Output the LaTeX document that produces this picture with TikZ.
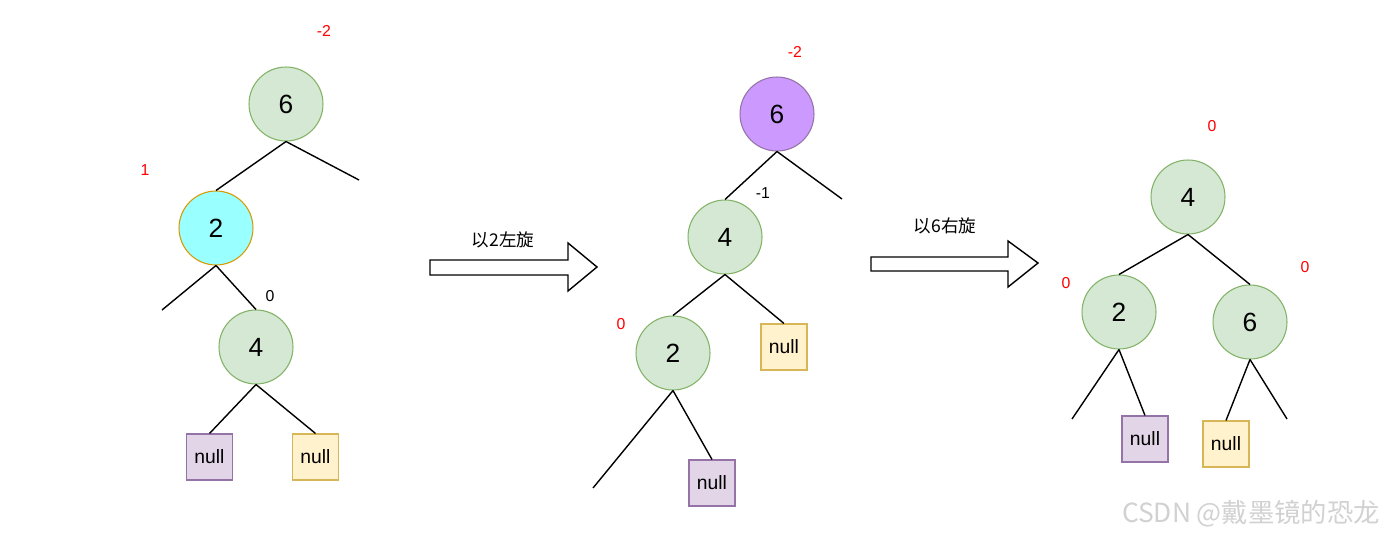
\documentclass[tikz,border=0pt]{standalone}
\usepackage{fontspec}
\setmainfont{Liberation Sans}
\newfontfamily\cjk{Noto Sans CJK SC}

\definecolor{greenfill}{HTML}{D5E8D4}
\definecolor{greenline}{HTML}{82B366}
\definecolor{cyanfill}{HTML}{99FFFF}
\definecolor{goldline}{HTML}{D79B00}
\definecolor{violetfill}{HTML}{CC99FF}
\definecolor{purpleline}{HTML}{9673A6}
\definecolor{purplefill}{HTML}{E1D5E7}
\definecolor{yellowfill}{HTML}{FFF2CC}
\definecolor{yellowline}{HTML}{D6B656}

\tikzset{
  avl/.style={circle, draw=greenline, fill=greenfill, line width=0.6pt,
    minimum size=1.48cm, inner sep=0pt, font=\fontsize{15}{15}\selectfont},
  nullpurple/.style={rectangle, draw=purpleline, fill=purplefill, line width=0.6pt,
    minimum size=0.92cm, inner sep=0pt, font=\fontsize{11}{11}\selectfont},
  nullyellow/.style={nullpurple, draw=yellowline, fill=yellowfill},
  bal/.style={font=\fontsize{9}{9}\selectfont},
  edge/.style={line width=0.8pt},
  turn/.style={draw, fill=white, line width=0.8pt}
}

\begin{document}
\begin{tikzpicture}[x=0.02cm, y=-0.02cm]
        \useasboundingbox (0,0) rectangle (1386,537);

        % Tree before rotation
        \node[avl] (a6) at (286,104) {6};
        \node[avl, fill=cyanfill, draw=goldline] (a2) at (216,228) {2};
        \node[avl] (a4) at (256,347) {4};
        \node[nullpurple] (an1) at (209.5,457) {null};
        \node[nullyellow] (an2) at (315.5,457) {null};
        \coordinate (a6r) at (359,180);
        \coordinate (a2l) at (162,310);
        \draw[edge] (a6.south) -- (a2.north);
        \draw[edge] (a6.south) -- (a6r);
        \draw[edge] (a2.south) -- (a2l);
        \draw[edge] (a2.south) -- (a4.north);
        \draw[edge] (a4.south) -- (an1.north);
        \draw[edge] (a4.south) -- (an2.north);

        % Balance factors
        \node[bal, red] (ba6) at (324,31) {-2};
        \node[bal, red] (ba2) at (145,170) {1};
        \node[bal] (ba4) at (270,296) {0};

        % Left rotation arrow
        \draw[turn] (430,260) -- (568,260) -- (568,243) -- (597,267) -- (568,291)
          -- (568,275) -- (430,275) -- cycle;
        \node[font=\cjk\fontsize{10}{10}\selectfont] (t1) at (503,240) {以2左旋};

        % Tree after left rotation
        \node[avl, fill=violetfill, draw=purpleline] (b6) at (777,114) {6};
        \node[avl] (b4) at (725,237) {4};
        \node[avl] (b2) at (673,353) {2};
        \node[nullyellow] (bn1) at (784,347) {null};
        \node[nullpurple] (bn2) at (712,483) {null};
        \coordinate (b6r) at (842,199);
        \coordinate (b2l) at (593,488);
        \draw[edge] (b6.south) -- (b4.north);
        \draw[edge] (b6.south) -- (b6r);
        \draw[edge] (b4.south) -- (b2.north);
        \draw[edge] (b4.south) -- (bn1.north);
        \draw[edge] (b2.south) -- (b2l);
        \draw[edge] (b2.south) -- (bn2.north);

        % Balance factors
        \node[bal, red] (bb6) at (795,52) {-2};
        \node[bal] (bb4) at (763,193) {-1};
        \node[bal, red] (bb2) at (621,324) {0};

        % Right rotation arrow
        \draw[turn] (871,257) -- (1008,257) -- (1008,241) -- (1038,263) -- (1008,287)
          -- (1008,271) -- (871,271) -- cycle;
        \node[font=\cjk\fontsize{10}{10}\selectfont] (t2) at (945,226) {以6右旋};

        % Balanced tree
        \node[avl] (c4) at (1188,197) {4};
        \node[avl] (c2) at (1119,312) {2};
        \node[avl] (c6) at (1250,322) {6};
        \node[nullpurple] (cn1) at (1145,439) {null};
        \node[nullyellow] (cn2) at (1226,444) {null};
        \coordinate (c2l) at (1072,419);
        \coordinate (c6r) at (1287,419);
        \draw[edge] (c4.south) -- (c2.north);
        \draw[edge] (c4.south) -- (c6.north);
        \draw[edge] (c2.south) -- (c2l);
        \draw[edge] (c2.south) -- (cn1.north);
        \draw[edge] (c6.south) -- (cn2.north);
        \draw[edge] (c6.south) -- (c6r);

        % Balance factors
        \node[bal, red] (bc4) at (1212,126) {0};
        \node[bal, red] (bc2) at (1066,283) {0};
        \node[bal, red] (bc6) at (1305,267) {0};

        % Watermark
        \node[text=black!18, font=\cjk\fontsize{15}{15}\selectfont] (wm) at (1251,514)
          {CSDN @戴墨镜的恐龙};
    \end{tikzpicture}
\end{document}
